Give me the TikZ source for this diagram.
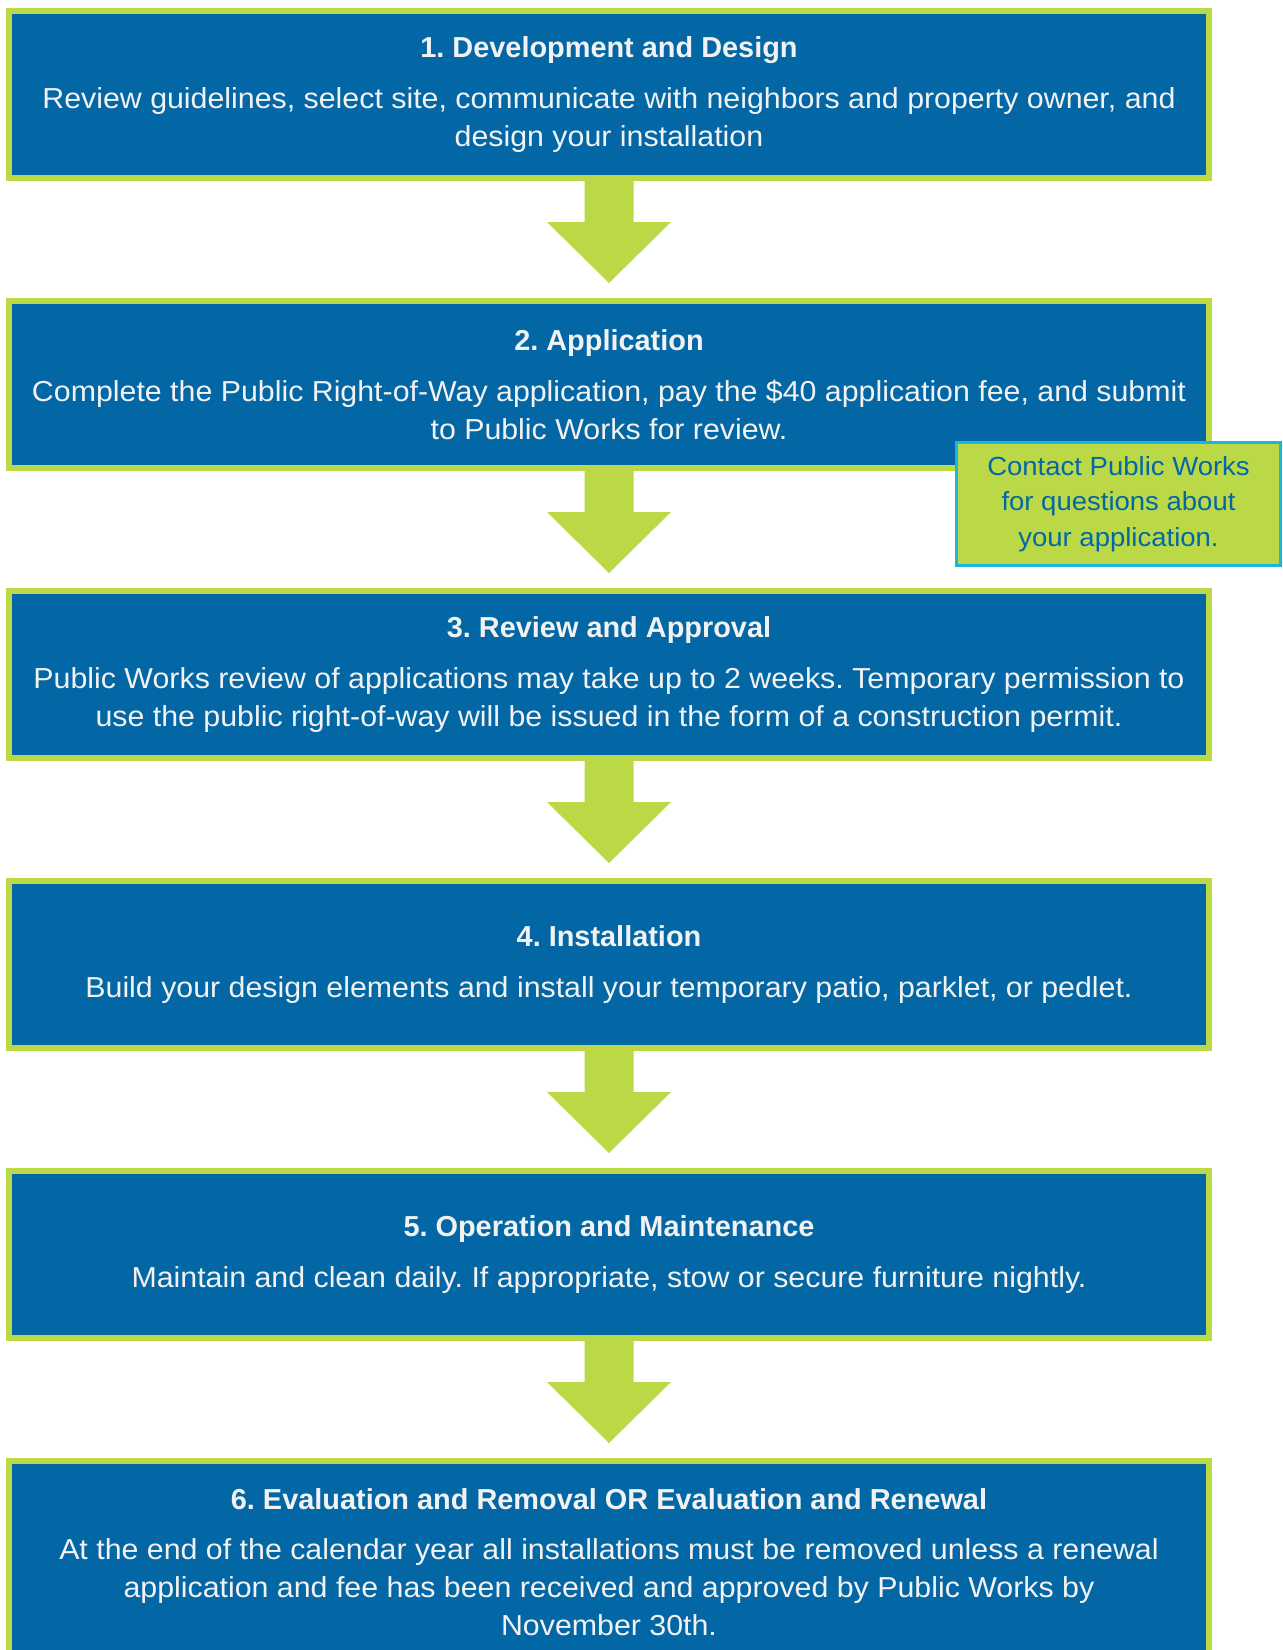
\documentclass[tikz,border=0pt]{standalone}
\usepackage{fontspec}
\setmainfont{Liberation Sans}[FakeStretch=1.05]
\newfontfamily\headfont{Liberation Sans}[FakeStretch=1.0]
\usetikzlibrary{calc}

\definecolor{stepblue}{RGB}{4,103,165}
\definecolor{stepgreen}{RGB}{187,217,71}
\definecolor{notecyan}{RGB}{27,181,224}
\definecolor{steptext}{RGB}{242,242,242}

\tikzset{
  stepbox/.style={draw=stepgreen, line width=6bp, fill=stepblue,
    minimum width=1200bp, minimum height=167bp, inner sep=0pt,
    text=steptext, align=center, font=\fontsize{29}{38}\selectfont},
  lastbox/.style={stepbox, minimum height=202bp},
  flowarrow/.style={fill=stepgreen, draw=none},
  notebox/.style={draw=notecyan, line width=3bp, fill=stepgreen,
    minimum width=324bp, minimum height=123bp, inner sep=0pt,
    text=stepblue, align=center, font=\fontsize{26.3}{35.5}\selectfont}
}
\newcommand{\stephead}[1]{{\headfont\bfseries #1}\\[13bp]}
\frenchspacing

\begin{document}
\begin{tikzpicture}[x=1bp, y=-1bp]
  \clip (0,0) rectangle (1282,1650);

  \node[stepbox] (b1) at (609,94.5) {\stephead{1. Development and Design}
    Review guidelines, select site, communicate with neighbors and property owner, and\\
    design your installation};
  \node[stepbox] (b2) at (609,384.5) {\stephead{2. Application}
    Complete the Public Right-of-Way application, pay the \$40 application fee, and submit\\
    to Public Works for review.};
  \node[stepbox] (b3) at (609,674.5) {\stephead{3. Review and Approval}
    Public Works review of applications may take up to 2 weeks. Temporary permission to\\
    use the public right-of-way will be issued in the form of a construction permit.};
  \node[stepbox] (b4) at (609,964.5) {\stephead{4. Installation}
    Build your design elements and install your temporary patio, parklet, or pedlet.};
  \node[stepbox] (b5) at (609,1254.5) {\stephead{5. Operation and Maintenance}
    Maintain and clean daily. If appropriate, stow or secure furniture nightly.};
  \node[lastbox] (b6) at (609,1562) {\stephead{6. Evaluation and Removal OR Evaluation and Renewal}
    At the end of the calendar year all installations must be removed unless a renewal\\
    application and fee has been received and approved by Public Works by\\
    November 30th.};

  % block arrows between consecutive steps
  \foreach \i in {1,...,5}{
    \pgfmathtruncatemacro{\j}{\i+1}
    \fill[flowarrow] ($(b\i.south)+(-24.5,0)$) -- ($(b\i.south)+(-24.5,41)$)
      -- ($(b\i.south)+(-62,41)$) -- ($(b\j.north)+(0,-15)$)
      -- ($(b\i.south)+(62,41)$) -- ($(b\i.south)+(24.5,41)$)
      -- ($(b\i.south)+(24.5,0)$) -- cycle;
  }

  \node[notebox] (note) at (1118.5,504) {Contact Public Works\\for questions about\\your application.};
\end{tikzpicture}
\end{document}
